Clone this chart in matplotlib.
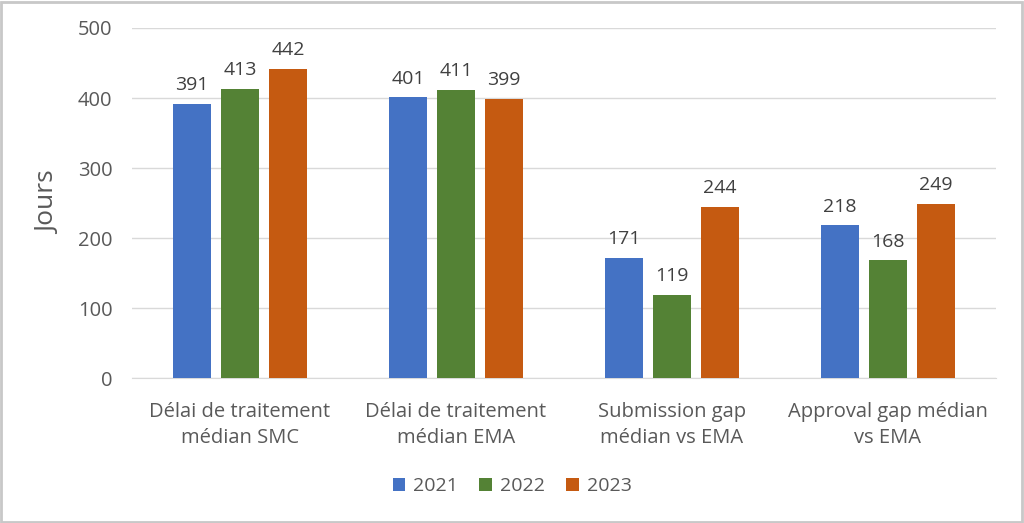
import numpy as np
import matplotlib.pyplot as plt
from matplotlib.patches import Rectangle

categories = ['Délai de traitement\nmédian SMC', 'Délai de traitement\nmédian EMA',
              'Submission gap\nmédian vs EMA', 'Approval gap médian\nvs EMA']
years = ['2021', '2022', '2023']
v2021 = [391, 401, 171, 218]
v2022 = [413, 411, 119, 168]
v2023 = [442, 399, 244, 249]

colors = ['#4472C4', '#548235', '#C55A11']
txt = '#595959'
plt.rcParams['font.family'] = ['Open Sans', 'DejaVu Sans']

fig = plt.figure(figsize=(10.24, 5.23), dpi=100)
ax = fig.add_axes([132/1024, 1 - 378/523, 864/1024, 350/523])

x = np.arange(len(categories))
barWidth = 0.176
step = 0.222
for i, (vals, c, lab) in enumerate(zip([v2021, v2022, v2023], colors, years)):
    bars = ax.bar(x + (i - 1) * step, vals, width=barWidth, color=c, label=lab, zorder=3)
    for b, v in zip(bars, vals):
        ax.text(b.get_x() + b.get_width() / 2, v + 14, str(v), ha='center', va='bottom',
                fontsize=14, color='#404040')

ax.set_xlim(-0.5, 3.5)
ax.set_ylim(0, 500)
ax.set_yticks(range(0, 501, 100))
ax.yaxis.grid(True, color='#D9D9D9', linewidth=1, zorder=0)
ax.set_axisbelow(True)
for s in ['top', 'right', 'left']:
    ax.spines[s].set_visible(False)
ax.spines['bottom'].set_color('#D9D9D9')
ax.tick_params(axis='both', length=0, labelsize=14.5, colors=txt)
ax.tick_params(axis='y', pad=14)
ax.tick_params(axis='x', pad=17)
ax.set_xticks(x)
ax.set_xticklabels(categories, linespacing=1.45)
ax.set_ylabel('Jours', fontsize=19, color=txt, labelpad=12)

ax.legend(loc='center', bbox_to_anchor=(0.5, 1 - 486/523), bbox_transform=fig.transFigure,
          ncol=3, frameon=False, fontsize=14, labelcolor=txt, handlelength=0.65,
          handleheight=0.65, handletextpad=0.4, columnspacing=1.1)

fig.patches.append(Rectangle((0.001, 0.002), 0.997, 0.995, transform=fig.transFigure,
                             fill=False, edgecolor='#C8C8C8', linewidth=2))

fig.savefig('out.png', dpi=100)
